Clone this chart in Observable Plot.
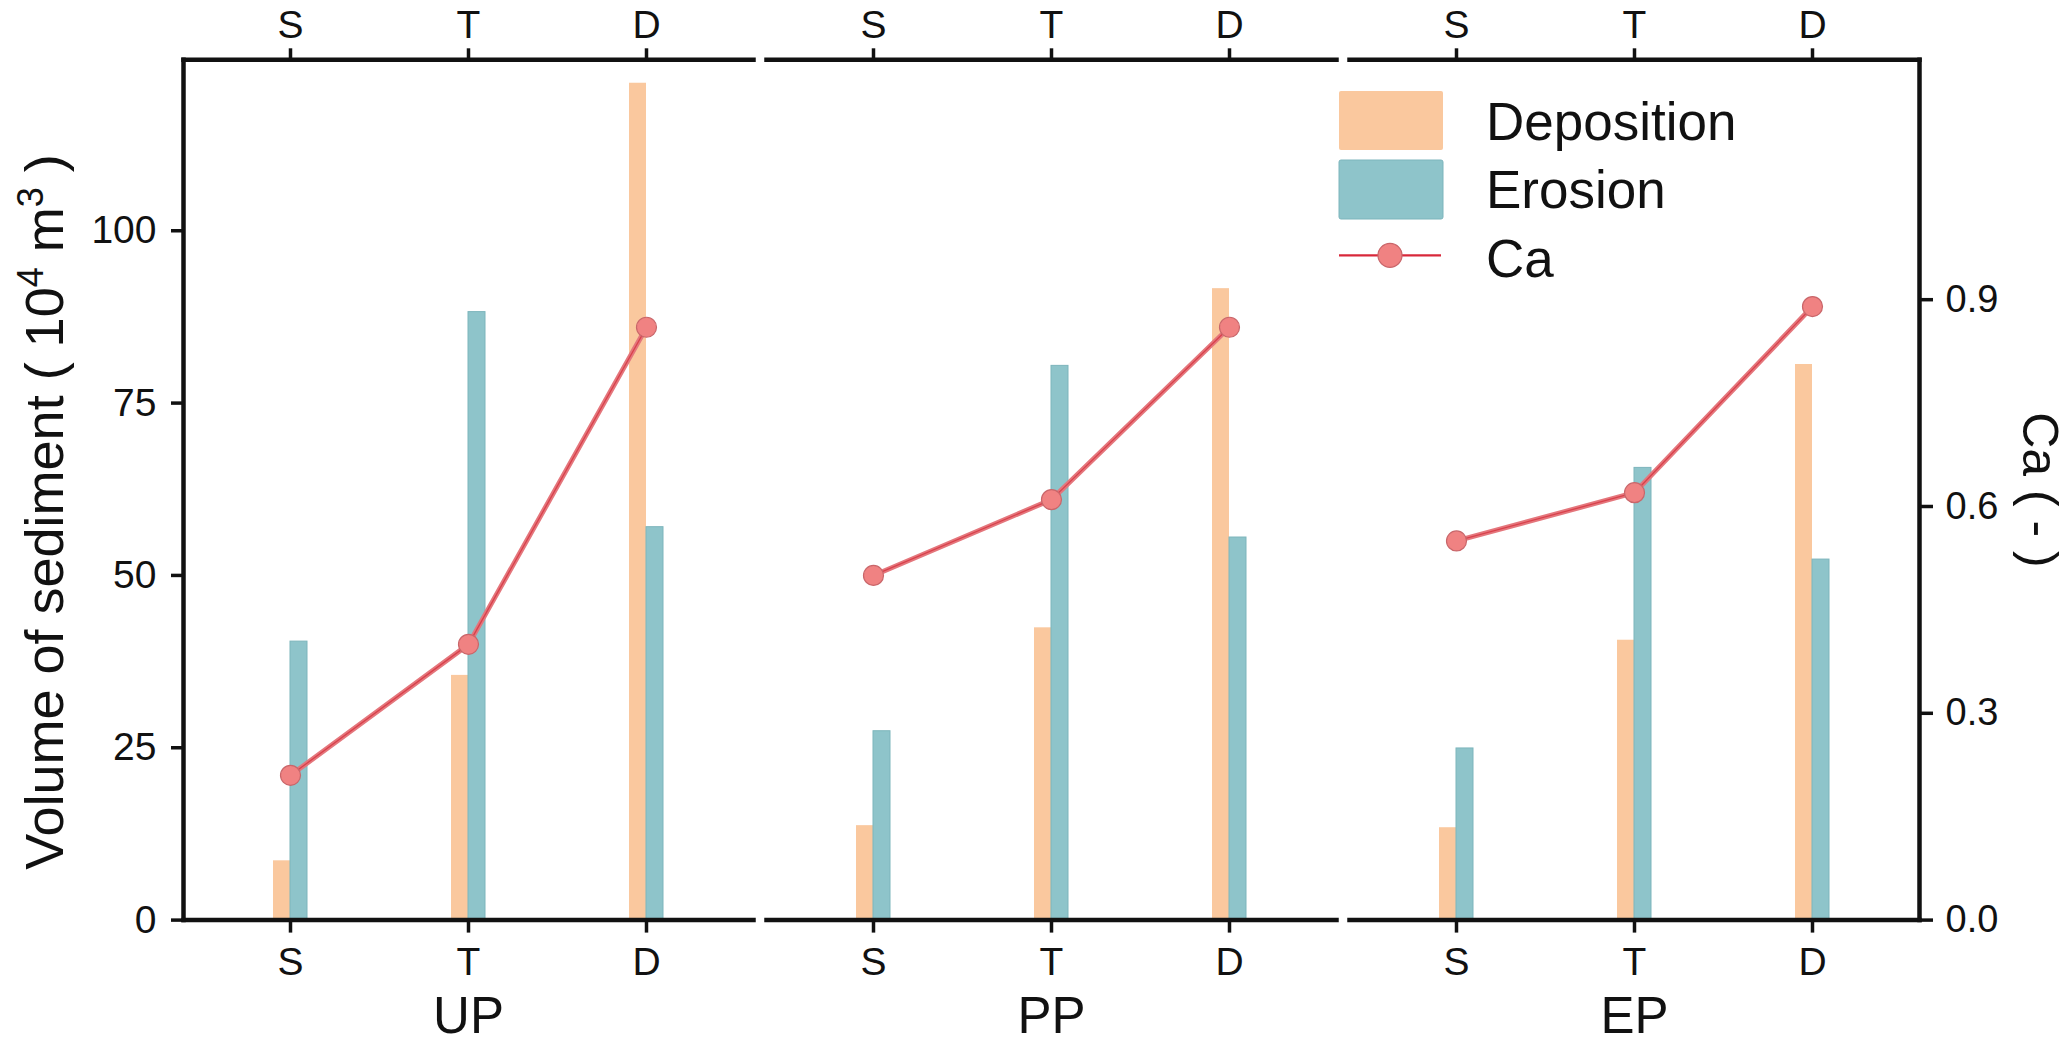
<!DOCTYPE html>
<html>
<head>
<meta charset="utf-8">
<script src="https://cdn.jsdelivr.net/npm/d3@7"></script>
<script src="https://cdn.jsdelivr.net/npm/@observablehq/plot@0.6"></script>
<style>
  html, body { margin: 0; padding: 0; background: #ffffff; }
  #chart svg { display: block; }
</style>
</head>
<body>
<div id="chart"></div>
<script>
// ---- data ----
const panels = ["UP", "PP", "EP"];
const stages = ["S", "T", "D"];
const depositionUP = [8.6, 35.5, 121.4];
const depositionPP = [13.7, 42.4, 91.6];
const depositionEP = [13.4, 40.6, 80.6];
const erosionUP = [40.4, 88.2, 57.0];
const erosionPP = [27.4, 80.4, 55.5];
const erosionEP = [24.9, 65.6, 52.3];
const caUP = [0.21, 0.40, 0.86];
const caPP = [0.50, 0.61, 0.86];
const caEP = [0.55, 0.62, 0.89];
const volumeTicks = [0, 25, 50, 75, 100];
const caTicks = [0, 0.3, 0.6, 0.9];
const caFactor = 100; // Ca 1.0 shares the position of volume 100
const seriesNames = ["Deposition", "Erosion", "Ca"];
const yLabel = "Volume of sediment ( 10⁴ m³ )";
const caLabel = "Ca ( - )";

const depositionBy = {UP: depositionUP, PP: depositionPP, EP: depositionEP};
const erosionBy = {UP: erosionUP, PP: erosionPP, EP: erosionEP};
const caBy = {UP: caUP, PP: caPP, EP: caEP};
const rows = panels.flatMap(p => stages.map((s, i) => ({
  panel: p, stage: s,
  deposition: depositionBy[p][i], erosion: erosionBy[p][i], ca: caBy[p][i]
})));

// ---- layout / style ----
const W = 2067, H = 1041;
const mL = 183, mR = 148, mT = 59.3, mB = 121.4;
const gap = 13;
const R = W - mL - mR;
const fxPad = 3 * gap / (R + gap);
const facetW = R * (1 - fxPad) / (3 - fxPad);
const xStep = facetW / 3.2;
const barPair = 34;
const xPadInner = 1 - barPair / xStep;
const xPadOuter = (0.2 + xPadInner) / 2;

const depColor = "#FAC89E";
const eroColor = "#8EC4CA";
const eroEdge = "#7DB5BC";
const lineColor = "#E4767C";
const lineCore = "#D9404B";
const dotFill = "#F08282";
const dotEdge = "#C9666A";
const ink = "#111111";
const font = "'Liberation Sans', Arial, Helvetica, sans-serif";

const chart = Plot.plot({
  width: W, height: H,
  marginLeft: mL, marginRight: mR, marginTop: mT, marginBottom: mB,
  style: {fontFamily: font, color: ink, background: "#ffffff", overflow: "visible"},
  fx: {domain: panels, paddingInner: fxPad, paddingOuter: 0, axis: null, label: null},
  x: {type: "band", domain: stages, paddingInner: xPadInner, paddingOuter: xPadOuter, label: null},
  y: {domain: [0, 124.8], label: null},
  marks: [
    Plot.barY(rows, {fx: "panel", x: "stage", y: "deposition", fill: depColor, insetRight: barPair / 2}),
    Plot.barY(rows, {fx: "panel", x: "stage", y: "erosion", fill: eroColor, stroke: eroEdge, strokeWidth: 1, insetLeft: barPair / 2}),
    Plot.line(rows, {fx: "panel", x: "stage", y: d => d.ca * caFactor, stroke: lineColor, strokeWidth: 5}),
    Plot.line(rows, {fx: "panel", x: "stage", y: d => d.ca * caFactor, stroke: lineCore, strokeWidth: 1.3}),
    Plot.dot(rows, {fx: "panel", x: "stage", y: d => d.ca * caFactor, r: 10, fill: dotFill, stroke: dotEdge, strokeWidth: 1.2}),
    Plot.frame({anchor: "top", stroke: ink, strokeWidth: 4.5, strokeLinecap: "square"}),
    Plot.frame({anchor: "bottom", stroke: ink, strokeWidth: 4.5, strokeLinecap: "square"}),
    Plot.frame({anchor: "left", stroke: ink, strokeWidth: 4.5, strokeLinecap: "square", facetAnchor: "left"}),
    Plot.frame({anchor: "right", stroke: ink, strokeWidth: 4.5, strokeLinecap: "square", facetAnchor: "right"}),
    Plot.axisX({anchor: "top", tickSize: 12, tickPadding: 10, fontSize: 39, strokeWidth: 3.5, stroke: ink, label: null}),
    Plot.axisX({anchor: "bottom", tickSize: 13, tickPadding: 14, fontSize: 39, strokeWidth: 3.5, stroke: ink, label: null}),
    Plot.axisY({anchor: "left", ticks: volumeTicks, tickSize: 12, tickPadding: 15, fontSize: 39, strokeWidth: 3.5, stroke: ink, label: null, facetAnchor: "left"}),
    Plot.axisY({anchor: "right", ticks: caTicks.map(v => v * caFactor), tickFormat: v => (v / caFactor).toFixed(1), tickSize: 13, tickPadding: 13, fontSize: 38, strokeWidth: 3.5, stroke: ink, label: null, facetAnchor: "right"}),
    Plot.text(panels, {fx: d => d, text: d => d, frameAnchor: "bottom", dy: 113, lineAnchor: "bottom", fontSize: 51, fill: ink}),
    Plot.text([yLabel], {fx: () => "UP", text: d => d, frameAnchor: "left", rotate: -90, dx: -121, dy: 22, lineAnchor: "bottom", textAnchor: "middle", fontSize: 54, fill: ink}),
    Plot.text([caLabel], {fx: () => "EP", text: d => d, frameAnchor: "right", rotate: 90, dx: 103, lineAnchor: "bottom", textAnchor: "middle", fontSize: 50, fill: ink})
  ]
});

document.getElementById("chart").appendChild(chart);

// ---- superscripts in the y label ----
const svg = d3.select(chart);
svg.selectAll("text").filter(function() { return this.textContent === yLabel; }).each(function() {
  const t = d3.select(this);
  t.text(null);
  t.append("tspan").text("Volume of sediment ( 10");
  t.append("tspan").attr("dy", -20).attr("font-size", 36).text("4");
  t.append("tspan").attr("dy", 20).text(" m");
  t.append("tspan").attr("dy", -20).attr("font-size", 36).text("3");
  t.append("tspan").attr("dy", 20).text(" )");
});

// ---- legend (inside the EP panel, top-left) ----
const lx = mL + 2 * (facetW + gap) - 10;
const lg = svg.append("g").attr("font-family", font).attr("fill", ink).attr("text-anchor", "start");
const keyW = 104, keyH = 59;
const keyTops = [mT + 31.7, mT + 100.7];
[depColor, eroColor].forEach((c, i) => {
  lg.append("rect").attr("x", lx).attr("y", keyTops[i]).attr("width", keyW).attr("height", keyH)
    .attr("rx", 2).attr("fill", c).attr("stroke", i === 1 ? eroEdge : "none").attr("stroke-width", 1);
});
const caKeyY = mT + 196;
lg.append("line").attr("x1", lx).attr("x2", lx + 102).attr("y1", caKeyY).attr("y2", caKeyY)
  .attr("stroke", "#D8283A").attr("stroke-width", 2.2);
lg.append("circle").attr("cx", lx + 51).attr("cy", caKeyY).attr("r", 12)
  .attr("fill", dotFill).attr("stroke", dotEdge).attr("stroke-width", 1.2);
const textBase = [mT + 80.7, mT + 149, mT + 217.4];
seriesNames.forEach((name, i) => {
  lg.append("text").attr("x", lx + 147).attr("y", textBase[i]).attr("font-size", 53)
    .attr("text-anchor", "start").text(name);
});
</script>
</body>
</html>
